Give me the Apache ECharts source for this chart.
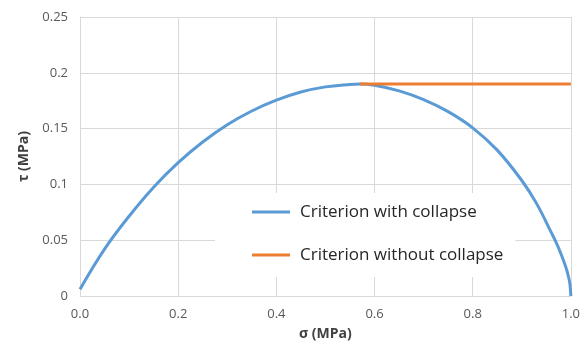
<!DOCTYPE html>
<html>
<head>
<meta charset="utf-8">
<script src="https://cdn.jsdelivr.net/npm/echarts@6/dist/echarts.min.js"></script>
<style>html,body{margin:0;padding:0;background:#fff}#c{width:583px;height:349px}</style>
</head>
<body>
<div id="c"></div>
<script>
const sigmaCollapse = [0, 0.05, 0.1, 0.15, 0.2, 0.25, 0.3, 0.35, 0.4, 0.45, 0.5, 0.55, 0.57, 0.6, 0.65, 0.7, 0.75, 0.8, 0.85, 0.9, 0.93, 0.96, 0.97, 0.98, 0.99, 0.995, 0.998, 1.0];
const tauCollapse = [0.006, 0.042, 0.0715, 0.0975, 0.1195, 0.138, 0.1535, 0.1658, 0.1755, 0.1828, 0.1874, 0.1896, 0.190, 0.1888, 0.1838, 0.176, 0.1652, 0.1507, 0.1307, 0.1035, 0.083, 0.057, 0.048, 0.0375, 0.0255, 0.0175, 0.011, 0.0];
const sigmaNoCollapse = [0.57, 1.0];
const tauNoCollapse = [0.19, 0.19];
const xTicks = [0, 0.2, 0.4, 0.6, 0.8, 1.0];
const yTicks = [0, 0.05, 0.1, 0.15, 0.2, 0.25];
const seriesNames = ['Criterion with collapse', 'Criterion without collapse'];

const zip = (a, b) => a.map((v, i) => [v, b[i]]);
const chart = echarts.init(document.getElementById('c'));
const gridColor = '#d9d9d9';
chart.setOption({
  animation: false,
  grid: { left: 80, right: 12, top: 17, bottom: 53 },
  xAxis: {
    type: 'value', min: xTicks[0], max: xTicks[xTicks.length - 1], interval: 0.2,
    name: 'σ (MPa)', nameLocation: 'middle', nameGap: 31,
    nameTextStyle: { fontFamily: 'Open Sans', fontWeight: 'bold', fontSize: 14, color: '#404040' },
    axisLine: { show: true, lineStyle: { color: gridColor, width: 1 } },
    axisTick: { show: false },
    axisLabel: { color: '#595959', fontSize: 13, fontFamily: 'Open Sans', margin: 12, formatter: v => v.toFixed(1) },
    splitLine: { show: true, lineStyle: { color: gridColor, width: 1 } }
  },
  yAxis: {
    type: 'value', min: yTicks[0], max: yTicks[yTicks.length - 1], interval: 0.05,
    name: 'τ (MPa)', nameLocation: 'middle', nameGap: 44,
    nameTextStyle: { fontFamily: 'Open Sans', fontWeight: 'bold', fontSize: 14, color: '#404040' },
    axisLine: { show: true, lineStyle: { color: gridColor, width: 1 } },
    axisTick: { show: false },
    axisLabel: { color: '#595959', fontSize: 13, fontFamily: 'Open Sans', margin: 12, formatter: v => String(+v.toFixed(2)) },
    splitLine: { show: true, lineStyle: { color: gridColor, width: 1 } }
  },
  legend: {
    orient: 'vertical', left: 215, top: 193,
    padding: [9, 12, 12, 37],
    backgroundColor: '#ffffff',
    itemWidth: 38, itemHeight: 3, itemGap: 23,
    icon: 'rect',
    textStyle: { fontFamily: 'Open Sans', fontSize: 17, color: '#262626', lineHeight: 20, padding: [0, 0, 0, 5] },
    data: seriesNames
  },
  series: [
    {
      name: seriesNames[0], type: 'line', smooth: 0.4, showSymbol: false, symbol: 'none',
      data: zip(sigmaCollapse, tauCollapse),
      lineStyle: { color: '#5B9BD5', width: 3 }, itemStyle: { color: '#5B9BD5' }, z: 3
    },
    {
      name: seriesNames[1], type: 'line', showSymbol: false, symbol: 'none',
      data: zip(sigmaNoCollapse, tauNoCollapse),
      lineStyle: { color: '#ED7D31', width: 3 }, itemStyle: { color: '#ED7D31' }, z: 4
    }
  ]
});
</script>
</body>
</html>
